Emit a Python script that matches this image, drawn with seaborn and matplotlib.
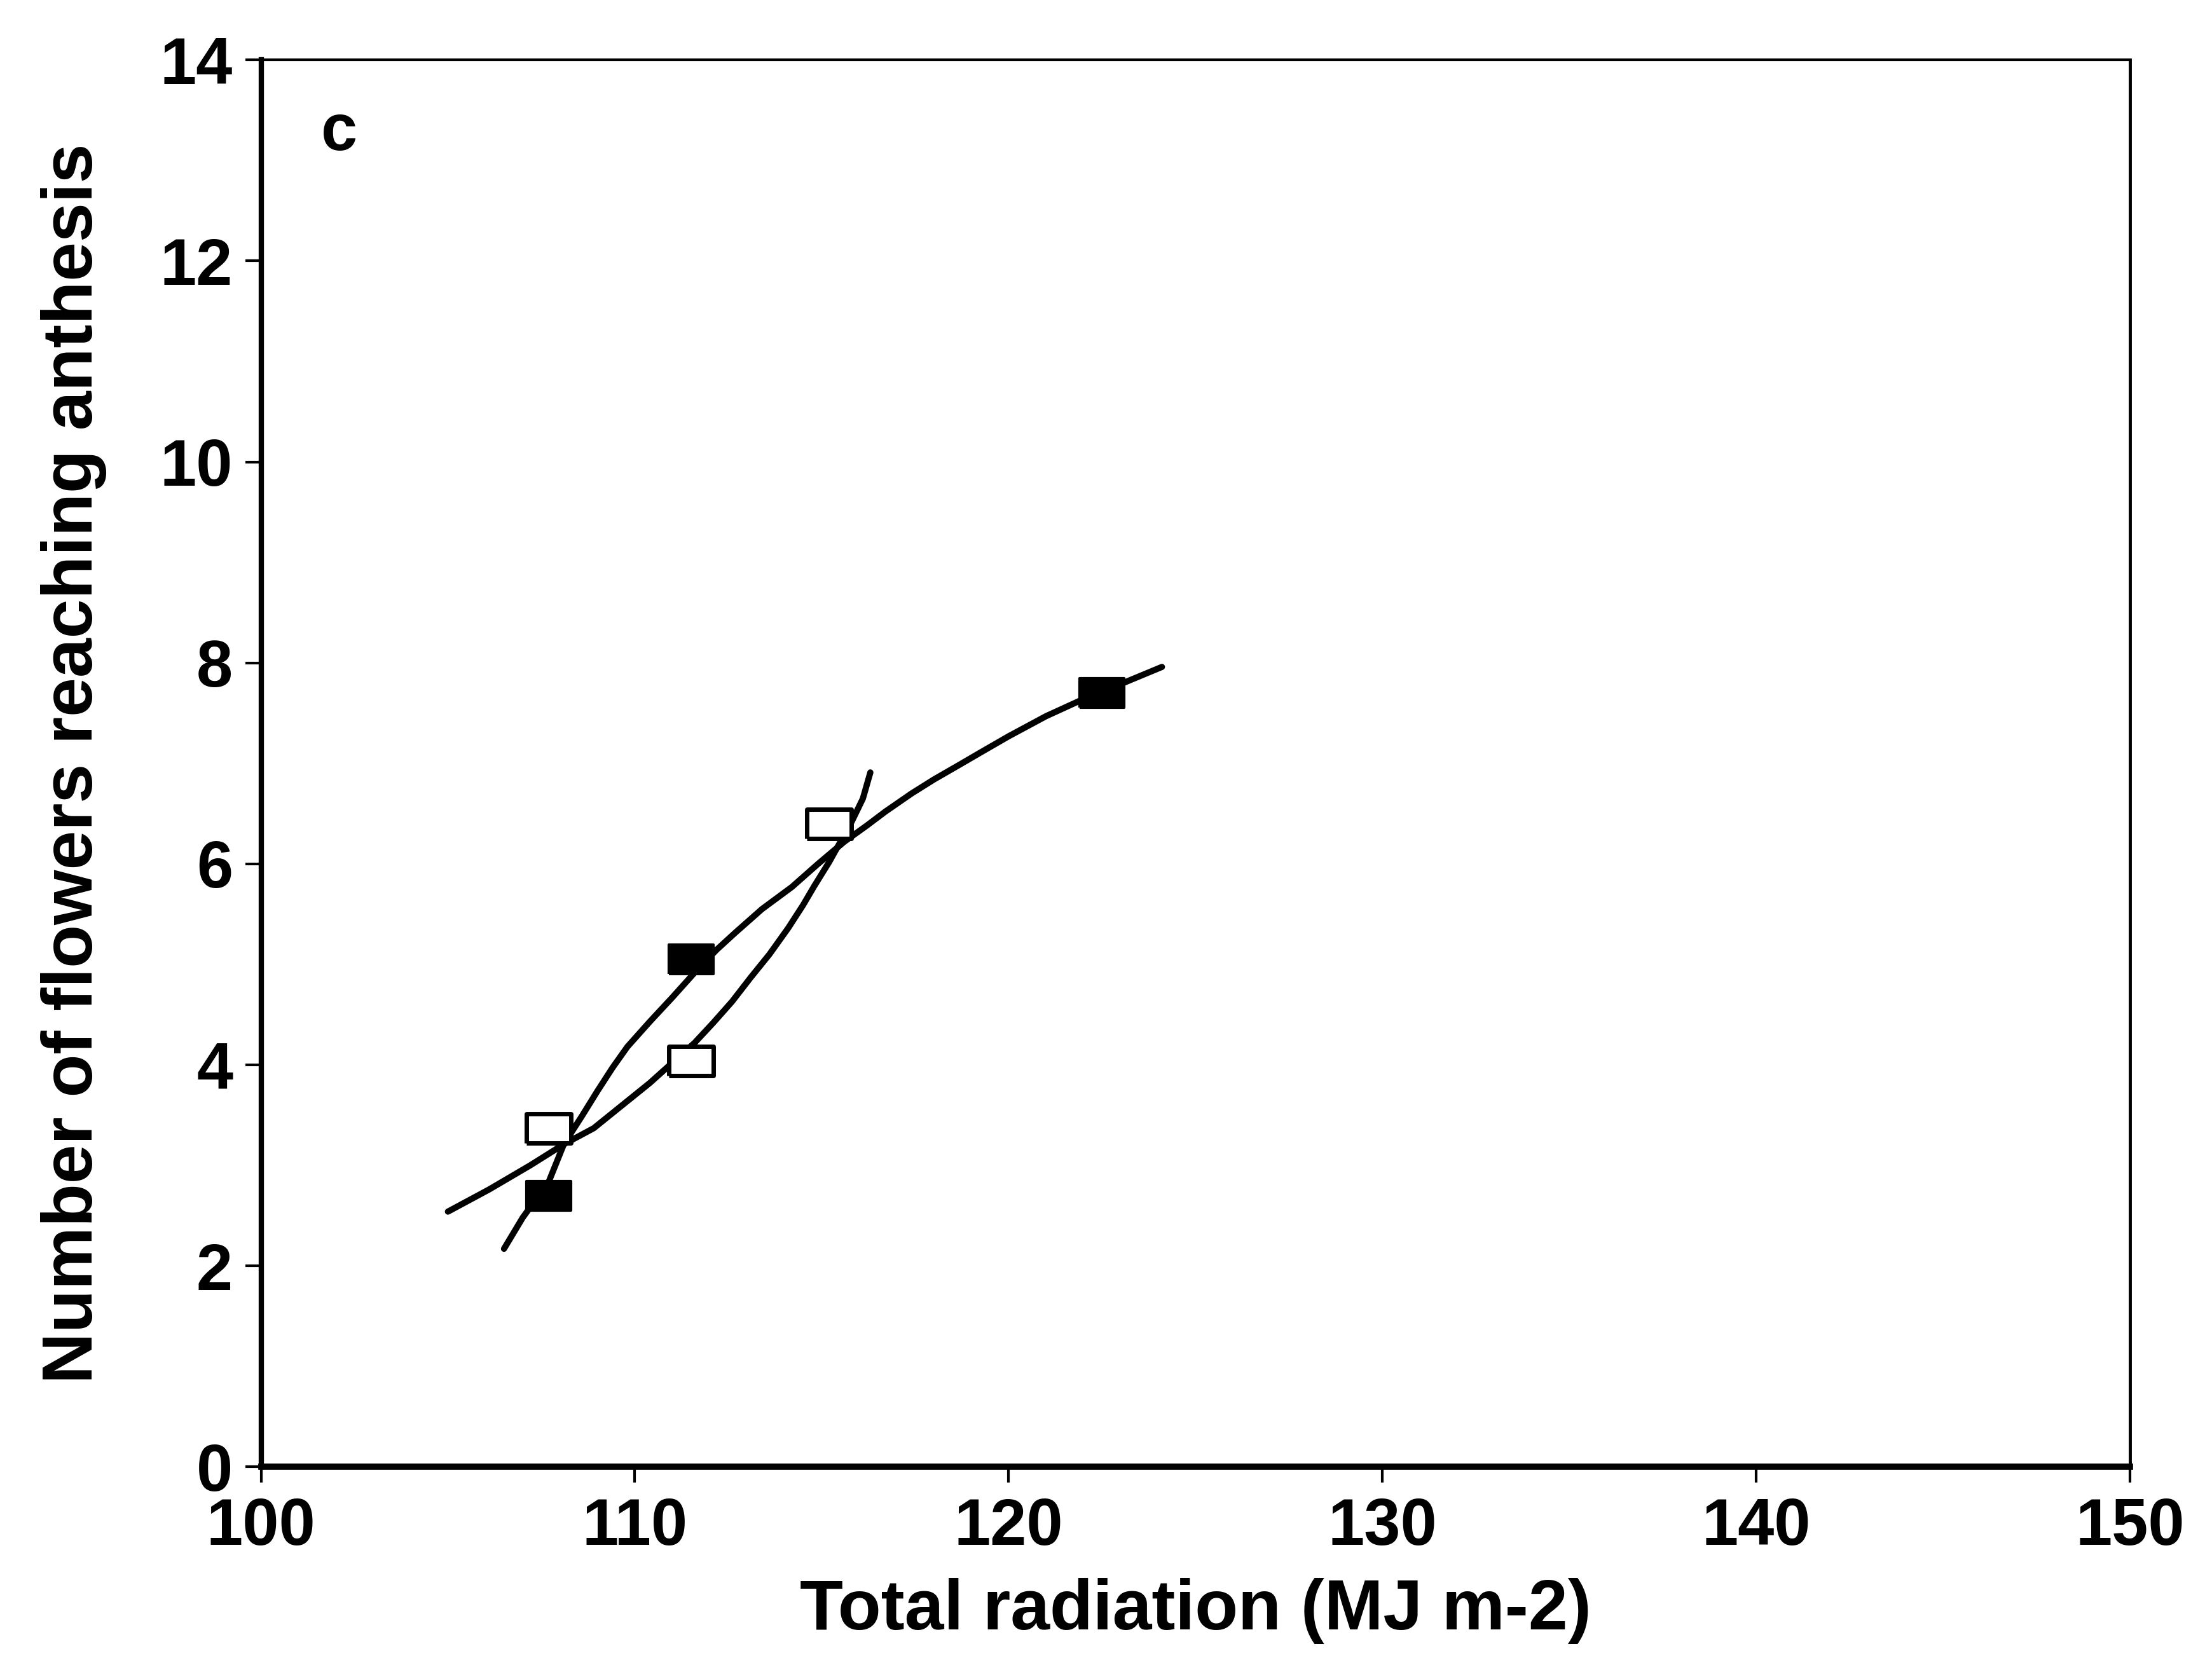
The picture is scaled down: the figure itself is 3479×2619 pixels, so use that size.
import matplotlib
matplotlib.use("Agg")
import matplotlib.pyplot as plt
import seaborn as sns

filled_x = [107.7, 111.5, 122.5]
filled_y = [2.7, 5.05, 7.7]
open_x = [107.7, 111.5, 115.2]
open_y = [3.37, 4.04, 6.4]

# fitted curves
filled_curve_x = [106.5, 107.0, 107.7, 108.1, 108.6, 109.0, 109.4, 109.8, 110.4, 111.0,
                  111.7, 112.2, 112.7, 113.4, 114.2, 114.9, 115.6, 116.2, 116.7, 117.4,
                  118.0, 118.7, 119.3, 120.0, 121.0, 122.0, 123.0, 124.1]
filled_curve_y = [2.17, 2.48, 2.84, 3.21, 3.50, 3.74, 3.97, 4.18, 4.43, 4.67,
                  4.96, 5.15, 5.32, 5.55, 5.77, 6.00, 6.22, 6.38, 6.52, 6.70,
                  6.84, 6.99, 7.12, 7.27, 7.47, 7.64, 7.79, 7.96]
open_curve_x = [105.0, 106.1, 107.2, 108.1, 108.9, 109.7, 110.4, 111.0, 111.6, 112.1,
                112.6, 113.1, 113.6, 114.1, 114.5, 114.8, 115.2, 115.5, 115.8, 116.1, 116.3]
open_curve_y = [2.54, 2.76, 3.00, 3.21, 3.37, 3.61, 3.82, 4.02, 4.22, 4.42,
                4.63, 4.87, 5.10, 5.36, 5.59, 5.78, 6.02, 6.22, 6.42, 6.65, 6.91]

sns.set_style("ticks")
plt.rcParams['font.family'] = ['Liberation Sans', 'DejaVu Sans']
plt.rcParams['font.weight'] = 'bold'
for key in ['axes.edgecolor', 'xtick.color', 'ytick.color', 'text.color', 'axes.labelcolor']:
    plt.rcParams[key] = 'black'

fig = plt.figure(figsize=(34.79, 26.19), dpi=100)
ax = fig.add_axes([0.118, 0.119, 0.845, 0.845])

sns.lineplot(x=filled_curve_x, y=filled_curve_y, color='black', linewidth=7, ax=ax)
sns.lineplot(x=open_curve_x, y=open_curve_y, color='black', linewidth=7, ax=ax)

rect = [(-1.0, -0.66), (1.0, -0.66), (1.0, 0.66), (-1.0, 0.66), (-1.0, -0.66)]
sns.scatterplot(x=open_x, y=open_y, marker=rect, s=2500, color='white',
                edgecolor='black', linewidth=5, zorder=5, ax=ax)
sns.scatterplot(x=filled_x, y=filled_y, marker=rect, s=2500, color='black',
                edgecolor='black', linewidth=3, zorder=6, ax=ax)

ax.set_xlim(100, 150)
ax.set_ylim(0, 14)
ax.set_xticks([100, 110, 120, 130, 140, 150])
ax.set_yticks([0, 2, 4, 6, 8, 10, 12, 14])

ax.tick_params(axis='both', direction='out', length=18, width=3, labelsize=74)
ax.tick_params(axis='x', pad=16)
ax.tick_params(axis='y', pad=14)
for lab in ax.get_xticklabels() + ax.get_yticklabels():
    lab.set_fontweight('bold')

ax.spines['left'].set_linewidth(6)
ax.spines['bottom'].set_linewidth(7)
ax.spines['top'].set_linewidth(3)
ax.spines['right'].set_linewidth(3.5)

ax.set_xlabel('Total radiation (MJ m-2)', fontsize=80, fontweight='bold', labelpad=22)
ax.set_ylabel('Number of flowers reaching anthesis', fontsize=80, fontweight='bold', labelpad=60)

ax.text(102.1, 13.27, 'c', fontsize=74, fontweight='bold', ha='center', va='center')

fig.savefig('out.png', dpi=100)
